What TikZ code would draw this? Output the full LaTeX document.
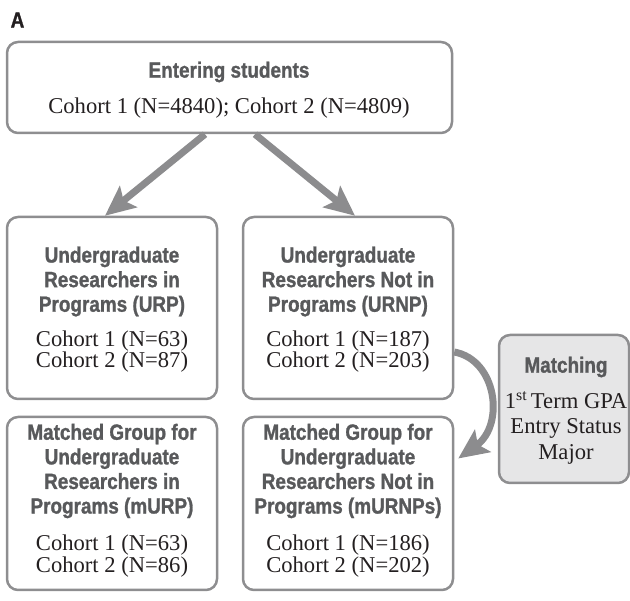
\documentclass[tikz,border=0pt]{standalone}
\usepackage{fontspec}
\setmainfont{Liberation Serif}
\newfontfamily\hdfamily{Liberation Sans Bold}[FakeStretch=0.86,FakeBold=1.2]
\usetikzlibrary{arrows.meta}
\definecolor{boxgray}{HTML}{8E8E90}
\definecolor{arrgray}{HTML}{8C8C8E}
\definecolor{hdgray}{HTML}{58595B}
\definecolor{txtblack}{HTML}{231F20}
\definecolor{matchfill}{HTML}{E6E6E7}
\begin{document}
\begin{tikzpicture}[x=1pt,y=-1pt,
  box/.style={draw=boxgray, line width=2.5pt, rounded corners=11pt, inner sep=0pt},
  hd/.style={font=\hdfamily\fontsize{22}{24.6}\selectfont, text=hdgray, align=center, inner sep=0pt},
  sr/.style={font=\fontsize{22.6}{21.5}\selectfont, text=txtblack, align=center, inner sep=0pt},
  arr/.style={draw=arrgray, line width=7pt, -{Stealth[length=30pt,width=27pt,inset=6pt]}}]
\useasboundingbox (0,0) rectangle (630,601);

\node[font=\hdfamily\fontsize{22}{24}\selectfont, text=txtblack, inner sep=0pt] (lbl) at (17.5,20) {A};

% boxes
\node[box, minimum width=445pt, minimum height=91pt] (top) at (229.5,87.5) {};
\node[box, minimum width=210pt, minimum height=182pt] (urp) at (112,308) {};
\node[box, minimum width=210pt, minimum height=182pt] (urnp) at (348,308) {};
\node[box, minimum width=210pt, minimum height=173pt] (murp) at (112,503.5) {};
\node[box, minimum width=210pt, minimum height=173pt] (murnp) at (348,503.5) {};
\node[box, fill=matchfill, minimum width=130pt, minimum height=148pt] (match) at (564,409) {};

% texts
\node[hd] (toph) at (229,72) {Entering students};
\node[sr] (topn) at (229,108) {Cohort 1 (N=4840); Cohort 2 (N=4809)};

\node[hd] (urph) at (112,281.5) {Undergraduate\\Researchers in\\Programs (URP)};
\node[sr] (urpn) at (112,351.5) {Cohort 1 (N=63)\\Cohort 2 (N=87)};

\node[hd] (urnph) at (348,281.5) {Undergraduate\\Researchers Not in\\Programs (URNP)};
\node[sr] (urnpn) at (348,351.5) {Cohort 1 (N=187)\\Cohort 2 (N=203)};

\node[hd] (murph) at (112,471) {Matched Group for\\Undergraduate\\Researchers in\\Programs (mURP)};
\node[sr] (murpn) at (112,556) {Cohort 1 (N=63)\\Cohort 2 (N=86)};

\node[hd] (murnph) at (348,471) {Matched Group for\\Undergraduate\\Researchers Not in\\Programs (mURNPs)};
\node[sr] (murnpn) at (348,556) {Cohort 1 (N=186)\\Cohort 2 (N=202)};

\node[hd] (matchh) at (566,367) {Matching};
\node[sr, font=\fontsize{22.6}{25.5}\selectfont] (matchn) at (566,428) {1\textsuperscript{st}\,Term GPA\\Entry Status\\Major};

% arrows
\draw[arr] ([xshift=-24.5pt]top.south) -- ([xshift=-7pt]urp.north);
\draw[arr] ([xshift=25.5pt]top.south) -- ([xshift=7pt]urnp.north);
\coordinate (c1) at (497,360);
\coordinate (c2) at (505,425);
\draw[arr] ([yshift=-44pt]urnp.east) .. controls (c1) and (c2) .. ([xshift=4pt,yshift=45pt]murnp.east);
\end{tikzpicture}
\end{document}
